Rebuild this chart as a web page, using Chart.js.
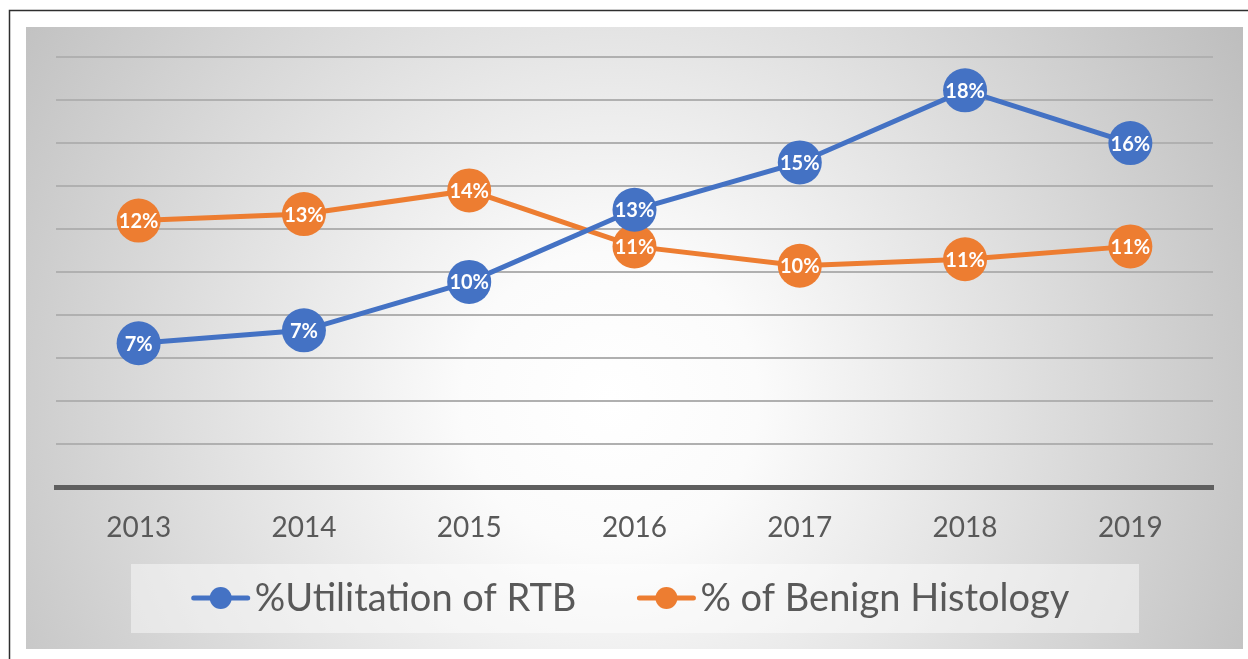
<!DOCTYPE html>
<html>
<head>
<meta charset="utf-8">
<script src="https://cdn.jsdelivr.net/npm/chart.js@4.4.1/dist/chart.umd.min.js"></script>
<style>
  html, body { margin: 0; padding: 0; background: #fff; }
  canvas { display: block; }
</style>
</head>
<body>
<canvas id="chart" width="1248" height="659"></canvas>
<script>
const years = ['2013', '2014', '2015', '2016', '2017', '2018', '2019'];
const rtbUtilisation = [6.7, 7.3, 9.55, 12.9, 15.1, 18.45, 16.0];
const benignHistology = [12.4, 12.7, 13.8, 11.2, 10.3, 10.6, 11.2];
const seriesNames = ['%Utilitation of RTB', '% of Benign Histology'];
const seriesColors = ['#4472C4', '#ED7D31'];
const yMin = 0;
const yMax = 20;
const yStep = 2;

const textGrey = '#595959';
const fontFamily = 'Lato, "Open Sans", sans-serif';

// panel behind everything, frame lines and the legend background
const backdrop = {
	id: 'backdrop',
	beforeDraw(chart) {
		const ctx = chart.ctx;
		ctx.save();
		ctx.fillStyle = '#ffffff';
		ctx.fillRect(0, 0, chart.width, chart.height);

		const grad = ctx.createRadialGradient(610, 400, 0, 610, 400, 740);
		grad.addColorStop(0, '#ffffff');
		grad.addColorStop(0.2, '#fbfbfb');
		grad.addColorStop(1, '#bdbdbd');
		ctx.fillStyle = grad;
		ctx.fillRect(26, 27, 1217, 622);

		ctx.strokeStyle = '#2e2e2e';
		ctx.lineWidth = 1.5;
		ctx.beginPath();
		ctx.moveTo(9.5, chart.height);
		ctx.lineTo(9.5, 10.5);
		ctx.lineTo(chart.width, 10.5);
		ctx.stroke();

		ctx.fillStyle = 'rgba(255,255,255,0.45)';
		ctx.fillRect(131, 564, 1008, 69);
		ctx.restore();
	},
};

// value labels inside each marker
const pointLabels = {
	id: 'pointLabels',
	afterDatasetsDraw(chart) {
		const ctx = chart.ctx;
		ctx.save();
		ctx.font = 'bold 20px ' + fontFamily;
		ctx.fillStyle = '#ffffff';
		ctx.textAlign = 'center';
		ctx.textBaseline = 'middle';
		chart.data.datasets.forEach((ds, i) => {
			chart.getDatasetMeta(i).data.forEach((pt, j) => {
				ctx.fillText(Math.round(ds.data[j]) + '%', pt.x, pt.y + 1);
			});
		});
		ctx.restore();
	},
};

// line + dot legend, centered under the plot
const boxLegend = {
	id: 'boxLegend',
	afterDraw(chart) {
		const ctx = chart.ctx;
		const markerW = 58;
		const textGap = 5;
		const itemGap = 61;
		const baseline = 611;
		const midY = 598;
		ctx.save();
		ctx.font = '38px ' + fontFamily;
		const items = chart.data.datasets.map((ds) => ({
			text: ds.label,
			color: ds.borderColor,
			width: markerW + textGap + ctx.measureText(ds.label).width,
		}));
		const total = items.reduce((s, it) => s + it.width, 0) + itemGap * (items.length - 1);
		const center = (chart.chartArea.left + chart.chartArea.right) / 2 - 4;
		let x = center - total / 2;
		for (const it of items) {
			ctx.strokeStyle = it.color;
			ctx.lineWidth = 5;
			ctx.lineCap = 'round';
			ctx.beginPath();
			ctx.moveTo(x + 2, midY);
			ctx.lineTo(x + markerW - 2, midY);
			ctx.stroke();
			ctx.fillStyle = it.color;
			ctx.beginPath();
			ctx.arc(x + markerW / 2, midY, 11, 0, Math.PI * 2);
			ctx.fill();

			ctx.fillStyle = textGrey;
			ctx.textAlign = 'left';
			ctx.textBaseline = 'alphabetic';
			ctx.fillText(it.text, x + markerW + textGap, baseline);
			x += it.width + itemGap;
		}
		ctx.restore();
	},
};

function makeDataset(label, data, color) {
	return {
		label: label,
		data: data,
		borderColor: color,
		backgroundColor: color,
		borderWidth: 5,
		pointRadius: 22,
		pointHoverRadius: 22,
		pointBorderWidth: 0,
		pointBackgroundColor: color,
		tension: 0,
	};
}

const chart = new Chart(document.getElementById('chart'), {
	type: 'line',
	data: {
		labels: years,
		datasets: [
			makeDataset(seriesNames[0], rtbUtilisation, seriesColors[0]),
			makeDataset(seriesNames[1], benignHistology, seriesColors[1]),
		],
	},
	options: {
		responsive: false,
		animation: false,
		devicePixelRatio: 1,
		layout: {
			padding: { left: 56, right: 35, top: 57, bottom: 90 },
		},
		plugins: {
			legend: { display: false },
			tooltip: { enabled: false },
		},
		scales: {
			x: {
				offset: true,
				grid: { display: false, drawTicks: false, tickLength: 0 },
				border: { display: true, color: '#5f5f5f', width: 5 },
				ticks: {
					color: textGrey,
					font: { family: fontFamily, size: 28 },
					padding: 24,
					maxRotation: 0,
					autoSkip: false,
				},
			},
			y: {
				min: yMin,
				max: yMax,
				grid: {
					drawTicks: false,
					tickLength: 0,
					lineWidth: 2,
					color: (ctx) => (ctx.tick && ctx.tick.value === 0 ? 'rgba(0,0,0,0)' : '#b0b0b0'),
				},
				border: { display: false },
				ticks: { display: false, stepSize: yStep },
			},
		},
	},
	plugins: [backdrop, pointLabels, boxLegend],
});
</script>
</body>
</html>
